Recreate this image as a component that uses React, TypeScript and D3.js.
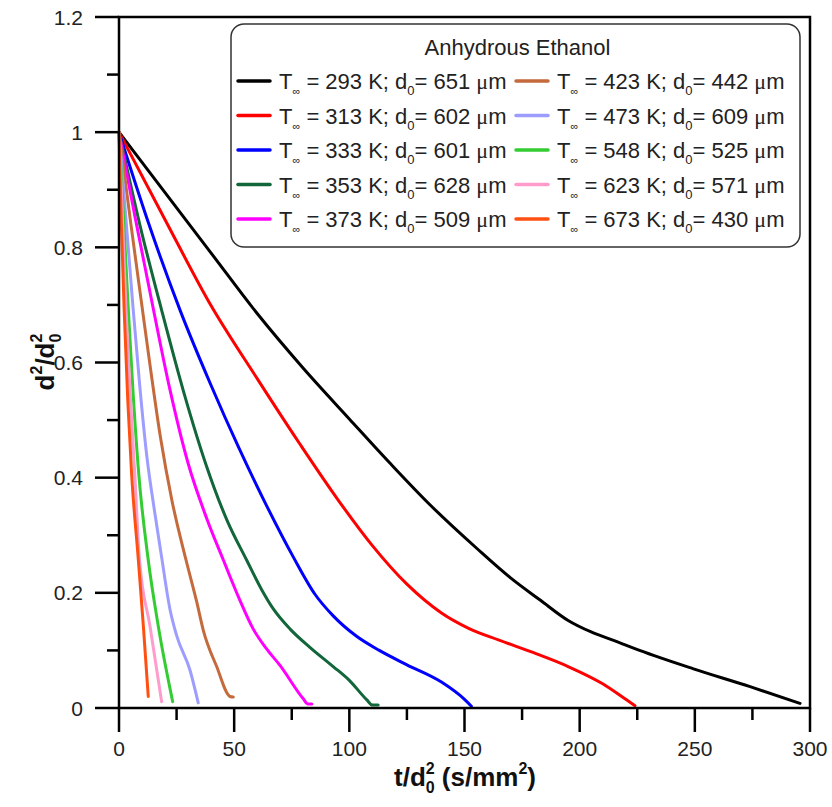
import React from "react";
import * as d3 from "d3";

const xMajorTicks = [0, 50, 100, 150, 200, 250, 300];
const xMinorTicks = [25, 75, 125, 175, 225, 275];
const yMajorTicks = [0, 0.2, 0.4, 0.6, 0.8, 1, 1.2];
const yTickLabels = ["0", "0.2", "0.4", "0.6", "0.8", "1", "1.2"];
const yMinorTicks = [0.1, 0.3, 0.5, 0.7, 0.9, 1.1];

const temperatures = [293, 313, 333, 353, 373, 423, 473, 548, 623, 673];
const diameters = [651, 602, 601, 628, 509, 442, 609, 525, 571, 430];
const seriesColors = ["#000000", "#ff0000", "#0000ff", "#11663a", "#ff00ff", "#c46a3c", "#9d9dff", "#33cc33", "#ff9ccc", "#ff5014"];

const s293: [number, number][] = [[0, 1], [20, 0.895], [40, 0.79], [60, 0.685], [80, 0.59], [100, 0.502], [117.7, 0.425], [135, 0.353], [155.4, 0.277], [170, 0.226], [183, 0.187], [195, 0.152], [205, 0.132], [215, 0.117], [226, 0.1], [249.4, 0.068], [274, 0.037], [295.7, 0.008]];
const s313: [number, number][] = [[0, 1], [20, 0.848], [39.5, 0.702], [60, 0.572], [78.6, 0.458], [95, 0.362], [110, 0.282], [125, 0.215], [140, 0.165], [152, 0.138], [165, 0.118], [180, 0.096], [195, 0.072], [210, 0.042], [220, 0.015], [224, 0.004]];
const s333: [number, number][] = [[0, 1], [13, 0.84], [26.5, 0.691], [40, 0.56], [52, 0.452], [64, 0.352], [75.7, 0.262], [85, 0.198], [93, 0.16], [103, 0.125], [113, 0.1], [125, 0.075], [140, 0.045], [150, 0.015], [153, 0.003]];
const s353: [number, number][] = [[0, 1], [9, 0.84], [18.5, 0.691], [28, 0.55], [38, 0.42], [47, 0.325], [55.4, 0.257], [62, 0.205], [67, 0.172], [74.3, 0.137], [83, 0.105], [93, 0.072], [100, 0.048], [107.6, 0.014], [110, 0.005], [112.5, 0.005]];
const s373: [number, number][] = [[0, 1], [7, 0.852], [14.8, 0.695], [22, 0.555], [30, 0.425], [38, 0.33], [45.3, 0.257], [52.5, 0.187], [58.3, 0.137], [64, 0.103], [69.9, 0.074], [80, 0.016], [82, 0.007], [83.7, 0.007]];
const s423: [number, number][] = [[0, 1], [5, 0.845], [9.9, 0.7], [14, 0.58], [18, 0.47], [23, 0.36], [29.1, 0.257], [33.7, 0.185], [36.6, 0.135], [42.4, 0.072], [48.2, 0.02], [49.6, 0.019]];
const s473: [number, number][] = [[0, 1], [3, 0.85], [6.1, 0.695], [9, 0.56], [12, 0.44], [15.5, 0.34], [18.5, 0.262], [22.1, 0.172], [25, 0.126], [30.8, 0.066], [34.4, 0.009]];
const s548: [number, number][] = [[0, 1], [2, 0.85], [4, 0.695], [6, 0.555], [8.5, 0.41], [12.7, 0.257], [17.1, 0.141], [23.3, 0.011]];
const s623: [number, number][] = [[0, 1], [1.5, 0.85], [3, 0.695], [5, 0.535], [6.8, 0.41], [8.8, 0.262], [13.5, 0.141], [18.5, 0.011]];
const s673: [number, number][] = [[0, 1], [1, 0.845], [2.2, 0.695], [3.8, 0.535], [5.5, 0.405], [8.4, 0.257], [10.6, 0.141], [12.7, 0.02]];

const seriesData = [s293, s313, s333, s353, s373, s423, s473, s548, s623, s673];

const W = 832;
const H = 807;
const left = 119;
const right = 810;
const top = 17;
const bottom = 708;
const FONT = "Arial, 'Liberation Sans', Helvetica, sans-serif";

export default function App() {
  const x = d3.scaleLinear().domain([0, 300]).range([left, right]);
  const y = d3.scaleLinear().domain([0, 1.2]).range([bottom, top]);
  const line = d3
    .line<[number, number]>()
    .x((d) => x(d[0]))
    .y((d) => y(d[1]))
    .curve(d3.curveMonotoneX);

  const axisColor = "#000";
  const sw = 2.5;
  const majorLen = 24;
  const minorLen = 12;

  const legendRows = temperatures.map((t, i) => ({
    t,
    d: diameters[i],
    color: seriesColors[i],
    col: i < 5 ? 0 : 1,
    row: i % 5,
  }));

  const legX = 231;
  const legY = 24;
  const legW = 569;
  const legH = 223;
  const rowY0 = 81;
  const rowDY = 34.5;
  const colX = [238, 516];

  return (
    <svg
      width={W}
      height={H}
      style={{ position: "absolute", left: 0, top: 0, background: "#fff" }}
      fontFamily={FONT}
    >
      <rect x={0} y={0} width={W} height={H} fill="#fff" />
      {seriesData.map((s, i) => (
        <path
          key={i}
          d={line(s) || ""}
          fill="none"
          stroke={seriesColors[i]}
          strokeWidth={3}
          strokeLinejoin="round"
          strokeLinecap="round"
        />
      ))}
      <rect x={left} y={top} width={right - left} height={bottom - top} fill="none" stroke={axisColor} strokeWidth={sw} />
      {xMajorTicks.map((t) => (
        <line key={"xm" + t} x1={x(t)} x2={x(t)} y1={bottom} y2={bottom + majorLen} stroke={axisColor} strokeWidth={sw} />
      ))}
      {xMinorTicks.map((t) => (
        <line key={"xn" + t} x1={x(t)} x2={x(t)} y1={bottom} y2={bottom + minorLen} stroke={axisColor} strokeWidth={sw} />
      ))}
      {xMajorTicks.map((t) => (
        <text key={"xl" + t} x={x(t)} y={bottom + 48} fontSize={21} textAnchor="middle" fill="#222">
          {t}
        </text>
      ))}
      {yMajorTicks.map((t) => (
        <line key={"ym" + t} x1={left - majorLen} x2={left} y1={y(t)} y2={y(t)} stroke={axisColor} strokeWidth={sw} />
      ))}
      {yMinorTicks.map((t) => (
        <line key={"yn" + t} x1={left - minorLen} x2={left} y1={y(t)} y2={y(t)} stroke={axisColor} strokeWidth={sw} />
      ))}
      {yMajorTicks.map((t, i) => (
        <text key={"yl" + t} x={83} y={y(t) + 7.5} fontSize={21} textAnchor="end" fill="#222">
          {yTickLabels[i]}
        </text>
      ))}
      <text x={465} y={786} fontSize={26} fontWeight="bold" textAnchor="middle" fill="#111">
        <tspan>t/d</tspan>
        <tspan fontSize={16} dy={7}>0</tspan>
        <tspan fontSize={16} dx={-9} dy={-19}>2</tspan>
        <tspan dy={12}> (s/mm</tspan>
        <tspan fontSize={16} dy={-12}>2</tspan>
        <tspan dy={12}>)</tspan>
      </text>
      <text transform={`translate(54,362) rotate(-90)`} fontSize={26} fontWeight="bold" textAnchor="middle" fill="#111">
        <tspan>d</tspan>
        <tspan fontSize={16} dy={-12}>2</tspan>
        <tspan dy={12}>/d</tspan>
        <tspan fontSize={16} dy={7}>0</tspan>
        <tspan fontSize={16} dx={-9} dy={-19}>2</tspan>
      </text>
      <rect x={legX} y={legY} width={legW} height={legH} rx={13} ry={13} fill="#fff" stroke="#333" strokeWidth={1.5} />
      <text x={legX + legW / 2 + 2} y={55} fontSize={22} textAnchor="middle" fill="#222">
        Anhydrous Ethanol
      </text>
      {legendRows.map((r, i) => {
        const cy = rowY0 + r.row * rowDY;
        const lx = colX[r.col];
        return (
          <g key={"lg" + i}>
            <line x1={lx} x2={lx + 32} y1={cy} y2={cy} stroke={r.color} strokeWidth={3.5} strokeLinecap="round" />
            <text x={lx + 41} y={cy + 8} fontSize={22} fill="#222">
              <tspan>T</tspan>
              <tspan fontSize={11} dy={6}>∞</tspan>
              <tspan dy={-6}>{` = ${r.t} K; d`}</tspan>
              <tspan fontSize={13} dy={6}>0</tspan>
              <tspan dy={-6}>{`= ${r.d} `}</tspan>
              <tspan fontFamily="'Liberation Serif', 'Times New Roman', serif">μ</tspan>
              <tspan>m</tspan>
            </text>
          </g>
        );
      })}
    </svg>
  );
}
